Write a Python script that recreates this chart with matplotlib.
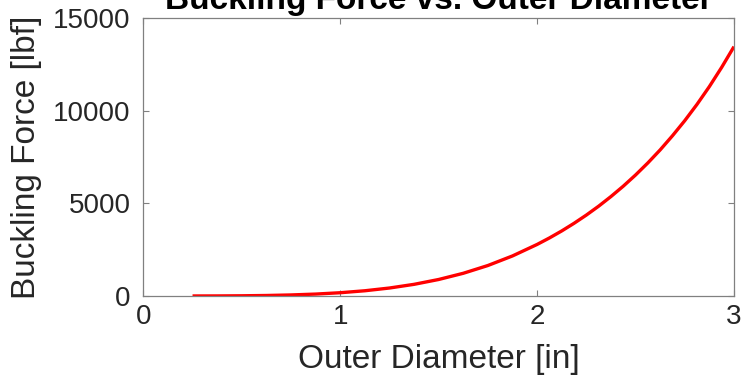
import matplotlib
matplotlib.use("Agg")
import matplotlib.pyplot as plt

# Outer diameter [in] and corresponding Euler buckling force [lbf]
outer_diameter = [0.25, 0.375, 0.5, 0.625, 0.75, 0.875, 1.0, 1.125, 1.25, 1.375,
                  1.5, 1.625, 1.75, 1.875, 2.0, 2.0625, 2.125, 2.1875, 2.25,
                  2.3125, 2.375, 2.4375, 2.5, 2.5625, 2.625, 2.6875, 2.75,
                  2.8125, 2.875, 2.9375, 3.0]
buckling_force = [0.7, 3.5, 11, 27, 56, 103, 176, 282, 430, 629,
                  891, 1226, 1646, 2163, 2784, 3134, 3513, 3925, 4370,
                  4850, 5371, 5930, 6535, 7188, 7891, 8655, 9471,
                  10356, 11313, 12352, 13470]

x_ticks = [0, 1, 2, 3]
y_ticks = [0, 5000, 10000, 15000]

plt.rcParams["font.family"] = ["Liberation Sans", "DejaVu Sans"]

fig = plt.figure(figsize=(7.46, 3.86), dpi=100)
ax = fig.add_axes([0.1921, 0.2332, 0.7918, 0.7194])

ax.plot(outer_diameter, buckling_force, color="#ff0000", linewidth=2.4,
        solid_capstyle="butt", solid_joinstyle="round")

ax.set_xlim(0, 3)
ax.set_ylim(0, 15000)
ax.set_xticks(x_ticks)
ax.set_yticks(y_ticks)

for side in ["left", "right", "top", "bottom"]:
    ax.spines[side].set_color("#808080")
    ax.spines[side].set_linewidth(0.9)

ax.tick_params(direction="in", length=4, width=0.8, color="#808080",
               top=True, right=True, labelsize=20, labelcolor="#262626")
ax.tick_params(axis="y", pad=9)
ax.tick_params(axis="x", pad=6)

ax.set_xlabel("Outer Diameter [in]", fontsize=24, color="#262626", labelpad=10)
ax.set_ylabel("Buckling Force [lbf]", fontsize=24, color="#262626", labelpad=8)
ax.set_title("Buckling Force vs. Outer Diameter", fontsize=24,
             fontweight="bold", color="black", pad=7)

fig.savefig("out.png", dpi=100, facecolor="white")
